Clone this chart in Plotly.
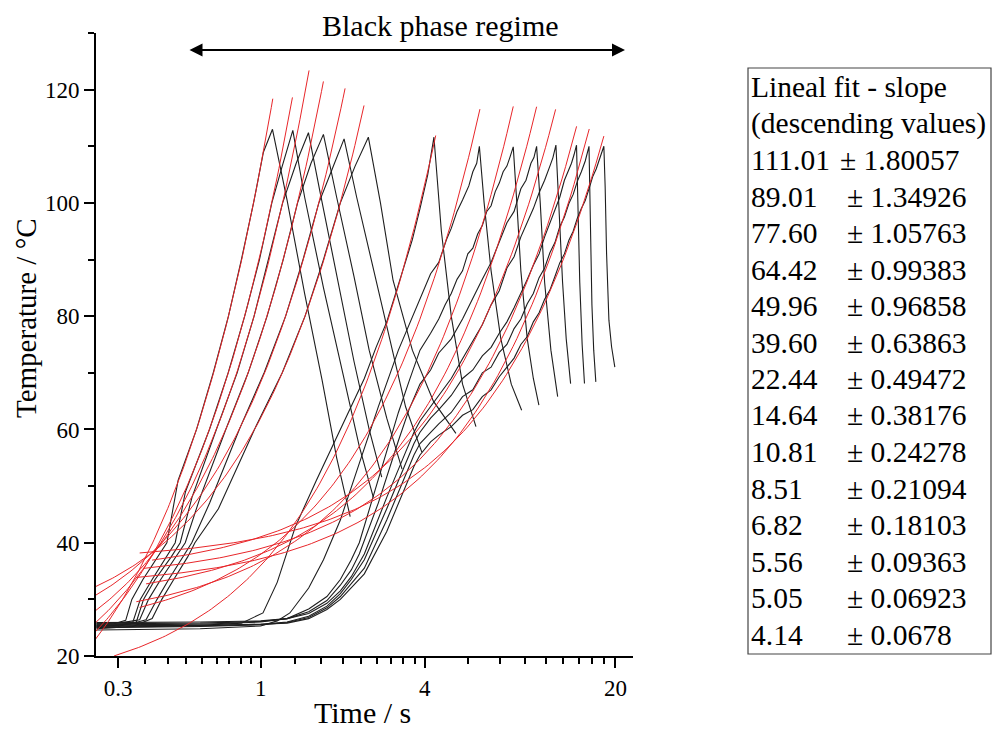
import plotly.graph_objects as go
import numpy as np

# ---------------- data ----------------
slopes = [111.01, 89.01, 77.60, 64.42, 49.96, 39.60, 22.44, 14.64, 10.81, 8.51, 6.82, 5.56, 5.05, 4.14]
slope_err = ["1.80057", "1.34926", "1.05763", "0.99383", "0.96858", "0.63863", "0.49472",
             "0.38176", "0.24278", "0.21094", "0.18103", "0.09363", "0.06923", "0.0678"]
slope_txt = ["111.01", "89.01", "77.60", "64.42", "49.96", "39.60", "22.44", "14.64",
             "10.81", "8.51", "6.82", "5.56", "5.05", "4.14"]
# intercepts of the linear fits (°C)
intercepts = [-4.6, 2.2, 6.6, 12.0, 18.3, 22.4, 13.5, 23.3, 25.8, 29.5, 34.2, 33.4, 32.1, 36.7]
fit_t_start = [0.24, 0.24, 0.24, 0.24, 0.24, 0.24, 0.29, 0.36, 0.35, 0.38, 0.40, 0.37, 0.35, 0.36]
fit_t_end = [1.108, 1.308, 1.505, 1.699, 2.04, 2.394, 4.385, 6.37, 8.44, 10.28, 12.07, 14.41, 16.03, 18.14]

# black temperature curves: time (s) and temperature (°C)
curve_t = [
    [0.25, 0.29, 0.32, 0.337, 0.37, 0.42, 0.453, 0.498, 0.582, 0.67, 0.762, 0.85, 0.942, 1.024, 1.105,
     1.25, 1.45, 1.68, 1.9, 2.13],
    [0.25, 0.30, 0.34, 0.362, 0.40, 0.45, 0.486, 0.53, 0.649, 0.76, 0.874, 0.99, 1.099, 1.20, 1.312,
     1.45, 1.7, 2.0, 2.3, 2.59],
    [0.25, 0.30, 0.35, 0.372, 0.41, 0.47, 0.507, 0.56, 0.688, 0.82, 0.946, 1.07, 1.204, 1.35, 1.497,
     1.65, 1.9, 2.2, 2.5, 2.78],
    [0.25, 0.31, 0.36, 0.388, 0.43, 0.49, 0.529, 0.60, 0.745, 0.90, 1.056, 1.21, 1.366, 1.53, 1.699,
     1.9, 2.2, 2.5, 2.9, 3.3],
    [0.25, 0.33, 0.38, 0.417, 0.46, 0.52, 0.559, 0.65, 0.835, 1.03, 1.235, 1.43, 1.635, 1.83, 2.023,
     2.25, 2.6, 3.0, 3.4, 3.9],
    [0.25, 0.34, 0.40, 0.434, 0.48, 0.54, 0.574, 0.70, 0.949, 1.20, 1.455, 1.70, 1.96, 2.22, 2.483,
     2.75, 3.06, 3.6, 4.3, 5.2],
    # group B (slow heating)
    [0.25, 0.6, 0.85, 1.02, 1.15, 1.34, 1.6, 1.96, 2.4, 2.65, 2.9, 3.15, 3.4, 3.6, 3.84, 4.1, 4.32,
     4.6, 5.0, 5.5, 6.16],
    [0.25, 0.6, 1.0, 1.15, 1.28, 1.5, 1.7, 1.96, 2.3, 2.7, 3.2, 3.5, 3.84, 4.2, 4.5, 4.8, 5.0, 5.25, 5.5, 5.8,
     6.0, 6.2, 6.34, 6.6, 7.0, 7.6, 8.3, 9.06],
    [0.25, 0.6, 1.0, 1.25, 1.5, 1.75, 1.96, 2.15, 2.3, 2.7, 3.2, 3.5, 3.84, 4.2, 4.5, 4.75, 5.0, 5.25, 5.5, 5.75,
     6.0, 6.25, 6.5, 6.75, 7.0, 7.25, 7.5, 7.75, 8.0, 8.2, 8.44, 8.7, 9.0, 9.5, 10.0, 10.48],
    [0.25, 0.6, 1.0, 1.25, 1.5, 1.75, 1.96, 2.15, 2.3, 2.7, 3.2, 3.5, 3.84, 4.2, 4.5, 5.0, 5.5, 6.0, 6.5, 7.0,
     7.5, 8.0, 8.5, 9.0, 9.4, 9.8, 10.05, 10.28, 10.6, 11.0, 11.6, 12.28],
    [0.25, 0.6, 1.0, 1.25, 1.5, 1.75, 1.96, 2.15, 2.4, 2.9, 3.4, 3.65, 3.84, 4.2, 4.5, 5.0, 5.5, 6.0, 6.5, 7.0,
     7.5, 8.0, 8.5, 9.0, 9.5, 10.0, 10.5, 11.0, 11.5, 11.8, 12.1, 12.4, 12.8, 13.2, 13.7],
    [0.25, 0.6, 1.0, 1.25, 1.5, 1.75, 1.96, 2.15, 2.4, 2.9, 3.4, 3.65, 3.84, 4.2, 4.5, 5.0, 5.5, 6.0, 6.5, 7.0,
     7.5, 8.0, 8.5, 9.0, 9.5, 10.0, 10.5, 11.0, 11.5, 12.0, 12.5, 13.0, 13.4, 13.8, 14.1, 14.4,
     14.6, 14.8, 15.1, 15.4],
    [0.25, 0.6, 1.0, 1.25, 1.5, 1.75, 1.96, 2.15, 2.4, 2.9, 3.4, 3.65, 3.84, 4.2, 4.5, 5.0, 5.5, 6.0, 6.5, 7.0,
     7.5, 8.0, 8.5, 9.0, 9.5, 10.0, 10.5, 11.0, 11.5, 12.0, 12.5, 13.0, 13.5, 14.0, 14.5, 15.0, 15.5, 16.0,
     16.2, 16.4, 16.65, 16.95],
    [0.25, 0.6, 1.0, 1.25, 1.5, 1.75, 1.96, 2.15, 2.4, 2.9, 3.4, 3.65, 3.84, 4.2, 4.5, 5.0, 5.5, 6.0, 6.5, 7.0,
     7.5, 8.0, 8.5, 9.0, 9.5, 10.0, 10.5, 11.0, 11.5, 12.0, 12.5, 13.0, 13.5, 14.0, 14.5, 15.0, 15.5, 16.0,
     16.5, 17.0, 17.6, 18.14, 18.34, 18.56, 18.93, 19.36, 19.9],
]
curve_T = [
    [25.6, 25.7, 26.3, 30.0, 33.5, 37.5, 40.0, 51.0, 60.0, 70.0, 80.0, 90.0, 100.0, 109.0, 113.0,
     100.5, 84.0, 68.7, 55.0, 44.6],
    [25.2, 25.4, 26.0, 30.0, 33.5, 37.5, 40.0, 49.0, 60.0, 70.0, 80.0, 90.0, 100.0, 106.5, 112.8,
     101.0, 85.0, 70.0, 57.0, 48.0],
    [25.0, 25.2, 26.0, 30.0, 33.5, 37.5, 40.0, 48.0, 60.0, 70.0, 80.0, 90.0, 100.0, 107.0, 112.4,
     102.0, 87.0, 72.0, 60.0, 51.6],
    [25.8, 25.9, 26.4, 30.0, 33.5, 37.5, 40.0, 48.0, 60.0, 70.0, 80.0, 90.0, 100.0, 107.0, 112.1,
     101.0, 87.0, 74.0, 62.0, 53.0],
    [25.4, 25.6, 26.4, 30.0, 33.5, 37.5, 40.0, 47.0, 60.0, 70.0, 80.0, 90.0, 100.0, 106.0, 111.3,
     101.0, 88.0, 75.0, 64.0, 56.0],
    [24.8, 25.2, 26.6, 30.0, 33.5, 37.5, 40.0, 46.0, 60.0, 70.0, 80.0, 90.0, 100.0, 106.5, 111.6,
     100.0, 86.3, 74.0, 65.0, 59.3],
    # group B
    [25.3, 25.4, 25.8, 27.6, 33.0, 42.8, 51.0, 60.0, 69.0, 74.5, 79.0, 84.5, 89.5, 93.5, 99.0, 105.0, 111.6,
     95.0, 80.0, 68.0, 60.5],
    [24.6, 24.8, 25.3, 26.2, 27.6, 32.0, 37.0, 44.0, 54.0, 64.0, 74.0, 78.5, 83.0, 87.5, 89.5, 93.5, 95.5, 98.5,
     100.5, 103.0, 105.5, 107.0, 110.0, 100.0, 88.0, 76.0, 68.0, 63.4],
    [25.5, 25.6, 26.0, 26.6, 28.3, 30.5, 33.5, 37.0, 40.0, 51.0, 63.0, 68.5, 74.0, 77.0, 79.5, 82.0, 84.0, 86.5,
     88.0, 91.0, 92.0, 94.5, 96.0, 98.5, 99.5, 102.0, 103.5, 105.5, 106.5, 108.0, 109.9,
     100.0, 88.0, 76.0, 69.0, 64.3],
    [25.7, 25.8, 26.1, 26.6, 27.8, 29.8, 32.5, 35.2, 38.0, 47.0, 58.0, 63.5, 68.0, 70.5, 73.5, 76.0, 79.5, 83.0,
     86.5, 89.5, 93.0, 96.5, 98.5, 102.5, 104.0, 107.0, 108.0, 110.0, 100.0, 86.0, 74.0, 65.8],
    [25.9, 26.0, 26.2, 26.6, 27.5, 29.3, 31.5, 34.0, 38.0, 48.0, 56.0, 59.5, 61.5, 64.0, 66.0, 69.0, 72.5, 75.5,
     78.5, 82.0, 84.5, 88.5, 90.5, 94.0, 96.5, 99.0, 101.8, 104.0, 106.5, 108.0, 110.2,
     100.0, 86.0, 76.0, 68.1],
    [25.1, 25.3, 25.6, 26.0, 27.0, 28.8, 31.0, 33.5, 37.0, 46.0, 54.0, 57.5, 59.5, 62.0, 63.5, 66.0, 69.0, 70.5,
     73.0, 74.5, 77.0, 79.0, 81.5, 84.0, 86.5, 89.0, 91.0, 94.0, 96.5, 99.0, 101.0, 104.0, 105.5, 107.0, 108.5,
     110.2, 98.0, 86.0, 75.0, 68.1],
    [25.0, 25.2, 25.5, 25.9, 26.8, 28.5, 30.5, 32.8, 35.5, 44.0, 52.0, 55.5, 57.5, 59.5, 61.0, 63.0, 65.8, 67.0,
     70.0, 71.0, 73.6, 75.0, 77.8, 79.5, 82.2, 84.0, 86.8, 88.5, 91.2, 93.0, 95.8, 97.5, 99.9, 101.5, 103.8,
     105.5, 107.4, 110.0, 96.0, 82.0, 74.0, 68.4],
    [25.3, 25.4, 25.6, 25.8, 26.6, 28.2, 30.0, 32.0, 34.5, 42.0, 50.0, 53.5, 55.5, 57.8, 59.0, 60.5, 62.5, 63.5,
     65.8, 67.0, 69.3, 71.0, 72.6, 75.0, 76.4, 79.0, 80.6, 83.0, 84.6, 87.0, 89.4, 91.0, 93.4, 95.0, 97.3,
     99.0, 100.4, 102.5, 104.6, 106.0, 108.0, 110.0, 102.8, 91.1, 79.3, 74.6, 71.0],
]

x_major = [0.3, 1, 4, 20]
x_minor = [0.3778, 0.4556, 0.5333, 0.6111, 0.6889, 0.7667, 0.8444, 0.9222,
           1.3333, 1.6667, 2.0, 2.3333, 2.6667, 3.0, 3.3333, 3.6667,
           5.7778, 7.5556, 9.3333, 11.1111, 12.8889, 14.6667, 16.4444, 18.2222]
y_major = [20, 40, 60, 80, 100, 120]
y_minor = [30, 50, 70, 90, 110, 130]

FONT = "Liberation Serif"

fig = go.Figure()

for t, T in zip(curve_t, curve_T):
    fig.add_trace(go.Scatter(x=t, y=T, mode="lines", line=dict(color="#1e1e1e", width=1.1),
                             showlegend=False, hoverinfo="skip"))

for s, a, t0, t1 in zip(slopes, intercepts, fit_t_start, fit_t_end):
    tt = np.geomspace(t0, t1, 120)
    fig.add_trace(go.Scatter(x=tt, y=a + s * tt, mode="lines", line=dict(color="#e8262a", width=1.0),
                             showlegend=False, hoverinfo="skip"))

W, H = 993, 729
ML, MR, MT, MB = 96, 360, 33, 73
pw, ph = W - ML - MR, H - MT - MB


def px(xp):
    return (xp - ML) / pw


def py(yp):
    return (H - MB - yp) / ph


fig.update_layout(
    width=W, height=H, margin=dict(l=ML, r=MR, t=MT, b=MB),
    paper_bgcolor="white", plot_bgcolor="white",
    font=dict(family=FONT, color="black"),
    xaxis=dict(type="log", range=[np.log10(0.249), np.log10(23.2)], showgrid=False, zeroline=False,
               showline=True, linecolor="black", linewidth=2,
               tickmode="array", tickvals=x_major, ticktext=[str(v) for v in x_major],
               ticks="outside", ticklen=10, tickwidth=2, tickcolor="black",
               tickfont=dict(family=FONT, size=23, color="black"),
               minor=dict(tickmode="array", tickvals=x_minor, ticks="outside", ticklen=6,
                          tickwidth=2, tickcolor="black", showgrid=False)),
    yaxis=dict(range=[20, 130], showgrid=False, zeroline=False,
               showline=True, linecolor="black", linewidth=2,
               tickmode="array", tickvals=y_major,
               ticks="outside", ticklen=10, tickwidth=2, tickcolor="black",
               tickfont=dict(family=FONT, size=23, color="black"),
               minor=dict(tickmode="array", tickvals=y_minor, ticks="outside", ticklen=6,
                          tickwidth=2, tickcolor="black", showgrid=False)),
)

ann = []
ann.append(dict(xref="paper", yref="paper", x=px(362), y=py(712), text="Time / s", showarrow=False,
                font=dict(family=FONT, size=30), xanchor="center", yanchor="middle"))
ann.append(dict(xref="paper", yref="paper", x=px(26), y=py(318), text="Temperature / °C", showarrow=False,
                font=dict(family=FONT, size=29), textangle=-90, xanchor="center", yanchor="middle"))
ann.append(dict(xref="paper", yref="paper", x=px(440), y=py(26), text="Black phase regime", showarrow=False,
                font=dict(family=FONT, size=30), xanchor="center", yanchor="middle"))
# double-headed arrow
ann.append(dict(xref="paper", yref="paper", axref="pixel", ayref="pixel",
                x=px(625), y=py(50), ax=-(625 - 188), ay=0, text="", showarrow=True,
                arrowhead=2, startarrowhead=2, arrowside="end+start", arrowsize=1.3, startarrowsize=1.3,
                arrowwidth=2, arrowcolor="black", standoff=0, startstandoff=0))

# table text
rows_y0, dy = 87, 36.5
TF = dict(family=FONT, size=29.5, color="black")
ann.append(dict(xref="paper", yref="paper", x=px(749), y=py(rows_y0), text="Lineal fit - slope",
                showarrow=False, font=TF, xanchor="left", yanchor="middle"))
ann.append(dict(xref="paper", yref="paper", x=px(749), y=py(rows_y0 + dy), text="(descending values)",
                showarrow=False, font=TF, xanchor="left", yanchor="middle"))
for k, (sv, ev) in enumerate(zip(slope_txt, slope_err)):
    yk = rows_y0 + dy * (k + 2)
    ann.append(dict(xref="paper", yref="paper", x=px(749), y=py(yk), text=sv,
                    showarrow=False, font=TF, xanchor="left", yanchor="middle"))
    ann.append(dict(xref="paper", yref="paper", x=px(838 if k == 0 else 845), y=py(yk), text="± " + ev,
                    showarrow=False, font=TF, xanchor="left", yanchor="middle"))
fig.update_layout(annotations=ann)

fig.add_shape(type="rect", xref="paper", yref="paper", x0=px(748), x1=px(991), y0=py(654), y1=py(68),
              line=dict(color="#444444", width=1.2), fillcolor="rgba(0,0,0,0)")

fig.write_html("out.html")
